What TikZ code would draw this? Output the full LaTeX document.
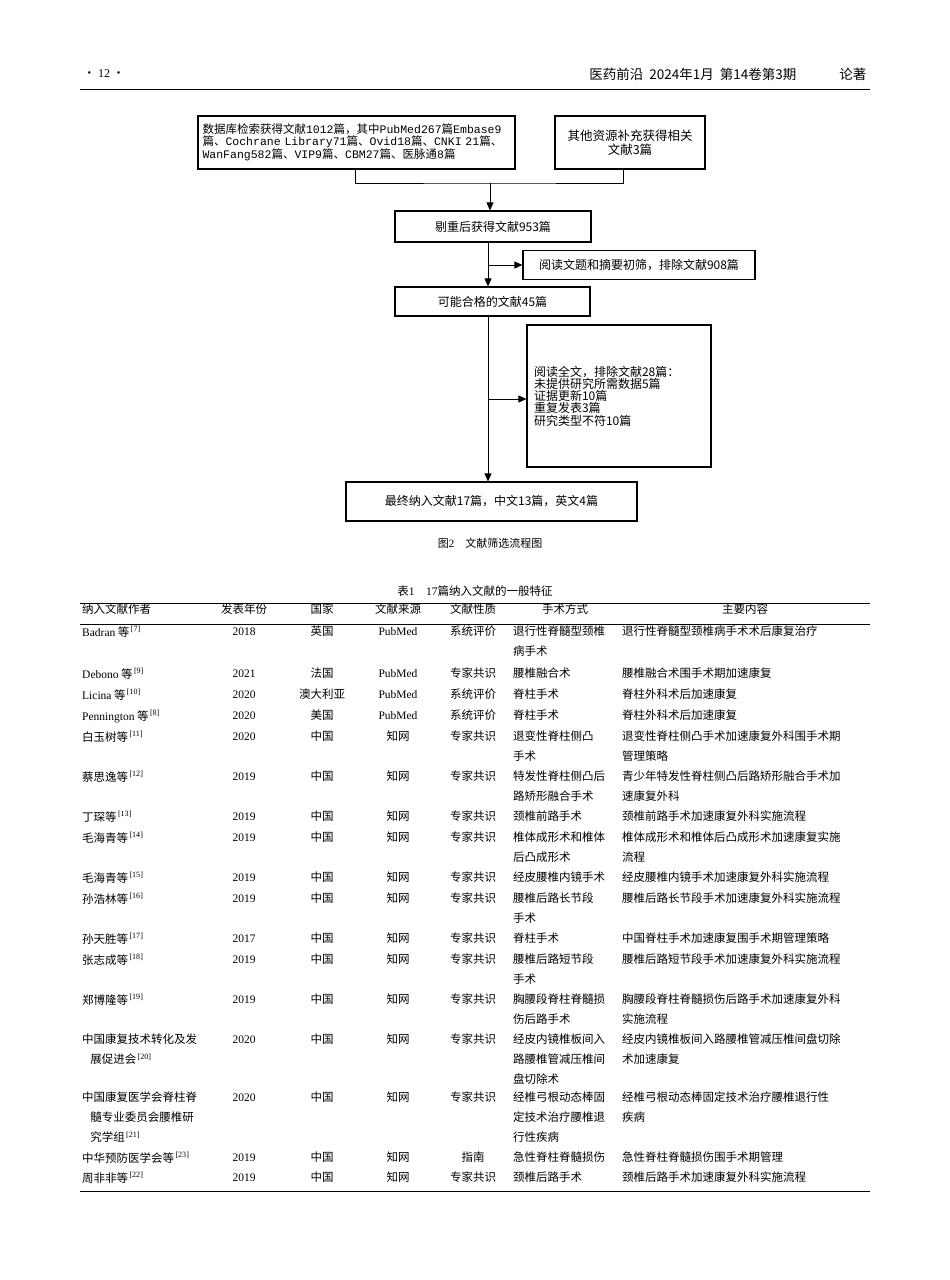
\documentclass[tikz,border=0pt]{standalone}
\usepackage{fontspec}
\setmainfont{Noto Sans CJK SC}
\newfontfamily\en{Liberation Serif}
\newfontfamily\mo{Liberation Mono}
\usetikzlibrary{arrows.meta}
\newcommand{\rf}[1]{\textsuperscript{\en\,[#1]}}
\newcommand{\cs}{\vphantom{中}}
\begin{document}
\begin{tikzpicture}[x=1pt,y=-1pt,
 box/.style={draw,line width=1.2pt,inner sep=2pt,font=\fontsize{12}{12}\selectfont},
 arr/.style={-{Triangle[length=8pt,width=7pt]},line width=0.8pt},
 ln/.style={line width=0.8pt},
 tc/.style={anchor=north west,inner sep=0pt,align=left,font=\fontsize{11.5}{20}\selectfont},
 cc/.style={anchor=north,inner sep=0pt,align=center,font=\fontsize{11.5}{20}\selectfont}]
\useasboundingbox (0,0) rectangle (950,1280);
% header
\node[font=\fontsize{12}{12}\selectfont] (pg) at (104,74) {· {\en 12} ·};
\node[anchor=east,font=\fontsize{13.5}{12}\selectfont] (jr) at (800,74) {医药前沿\ \ 2024年1月\ \ 第14卷第3期};
\node[anchor=east,font=\fontsize{13.5}{12}\selectfont] (lz) at (870,74) {论著};
\draw[line width=0.5pt] (80,89) -- (870,89);
% flowchart
\node[box,minimum width=317pt,minimum height=53pt,align=left,text width=308pt,font=\fontsize{11.5}{10.5}\selectfont] (b1) at (356.5,142.5) {数据库检索获得文献{\mo 1012}篇，其中{\mo PubMed267}篇{\mo Embase9}\\篇、{\mo Cochrane Library71}篇、{\mo Ovid18}篇、{\mo CNKI 21}篇、\\{\mo WanFang582}篇、{\mo VIP9}篇、{\mo CBM27}篇、医脉通{\mo 8}篇};
\node[box,minimum width=150pt,minimum height=53pt,align=center,font=\fontsize{12.5}{14}\selectfont] (b2) at (630,142.5) {其他资源补充获得相关\\文献3篇};
\node[box,minimum width=196pt,minimum height=31pt] (b3) at (493,226.5) {剔重后获得文献953篇};
\node[box,minimum width=232pt,minimum height=29pt] (b4) at (639,265) {阅读文题和摘要初筛，排除文献908篇};
\node[box,minimum width=195pt,minimum height=29pt] (b5) at (492.5,301.5) {可能合格的文献45篇};
\node[box,minimum width=184pt,minimum height=142pt,align=left,text width=170pt,font=\fontsize{12}{11}\selectfont] (b6) at (619,396) {阅读全文，排除文献28篇：\\未提供研究所需数据5篇\\证据更新10篇\\重复发表3篇\\研究类型不符10篇};
\node[box,minimum width=291pt,minimum height=39pt] (b7) at (491.5,501.5) {最终纳入文献17篇，中文13篇，英文4篇};
\coordinate (j1) at (490,183);
\coordinate (j2) at (488,265);
\coordinate (j3) at (488,399);
\draw[ln] (b1.south -| 355,0) |- (j1) -| (b2.south -| 623,0);
\draw[arr] (j1) -- (b3.north -| j1);
\draw[arr] (b3.south -| j2) -- (b5.north -| j2);
\draw[arr] (j2) -- (b4.west);
\draw[arr] (b5.south -| j3) -- (b7.north -| j3);
\draw[arr] (j3) -- (b6.west |- j3);
\node[font=\fontsize{11}{12}\selectfont] (cap) at (490,543) {图{\en 2}\quad 文献筛选流程图};
% table
\node[font=\fontsize{11.5}{12}\selectfont] (tt) at (475,591) {表{\en 1}\quad {\en 17}篇纳入文献的一般特征};
\draw[line width=1pt] (80,603) -- (870,603);
\draw[line width=0.5pt] (80,624) -- (870,624);
\draw[line width=1pt] (80,1191) -- (870,1191);
\foreach \t/\x in {发表年份/244,国家/322,文献来源/398,文献性质/473,手术方式/565,主要内容/745}
  \node[cc] at (\x,604) {\t};
\node[tc] at (82,604) {纳入文献作者};
\newcommand{\trow}[8]{%
 \node[tc] at (82,#1) {\cs #2};
 \node[cc] at (244,#1) {\cs\en #3};
 \node[cc] at (322,#1) {#4};
 \node[cc] at (398,#1) {\cs #5};
 \node[cc] at (473,#1) {#6};
 \node[tc] at (513,#1) {#7};
 \node[tc] at (622,#1) {#8};}
\trow{626}{{\en Badran} 等\rf{7}}{2018}{英国}{\en PubMed}{系统评价}{退行性脊髓型颈椎\\病手术}{退行性脊髓型颈椎病手术术后康复治疗}
\trow{668}{{\en Debono} 等\rf{9}}{2021}{法国}{\en PubMed}{专家共识}{腰椎融合术}{腰椎融合术围手术期加速康复}
\trow{689}{{\en Licina} 等\rf{10}}{2020}{澳大利亚}{\en PubMed}{系统评价}{脊柱手术}{脊柱外科术后加速康复}
\trow{710}{{\en Pennington} 等\rf{8}}{2020}{美国}{\en PubMed}{系统评价}{脊柱手术}{脊柱外科术后加速康复}
\trow{731}{白玉树等\rf{11}}{2020}{中国}{知网}{专家共识}{退变性脊柱侧凸\\手术}{退变性脊柱侧凸手术加速康复外科围手术期\\管理策略}
\trow{771}{蔡思逸等\rf{12}}{2019}{中国}{知网}{专家共识}{特发性脊柱侧凸后\\路矫形融合手术}{青少年特发性脊柱侧凸后路矫形融合手术加\\速康复外科}
\trow{811}{丁琛等\rf{13}}{2019}{中国}{知网}{专家共识}{颈椎前路手术}{颈椎前路手术加速康复外科实施流程}
\trow{832}{毛海青等\rf{14}}{2019}{中国}{知网}{专家共识}{椎体成形术和椎体\\后凸成形术}{椎体成形术和椎体后凸成形术加速康复实施\\流程}
\trow{872}{毛海青等\rf{15}}{2019}{中国}{知网}{专家共识}{经皮腰椎内镜手术}{经皮腰椎内镜手术加速康复外科实施流程}
\trow{893}{孙浩林等\rf{16}}{2019}{中国}{知网}{专家共识}{腰椎后路长节段\\手术}{腰椎后路长节段手术加速康复外科实施流程}
\trow{933}{孙天胜等\rf{17}}{2017}{中国}{知网}{专家共识}{脊柱手术}{中国脊柱手术加速康复围手术期管理策略}
\trow{954}{张志成等\rf{18}}{2019}{中国}{知网}{专家共识}{腰椎后路短节段\\手术}{腰椎后路短节段手术加速康复外科实施流程}
\trow{994}{郑博隆等\rf{19}}{2019}{中国}{知网}{专家共识}{胸腰段脊柱脊髓损\\伤后路手术}{胸腰段脊柱脊髓损伤后路手术加速康复外科\\实施流程}
\trow{1034}{中国康复技术转化及发\\\hspace*{0.7em}展促进会\rf{20}}{2020}{中国}{知网}{专家共识}{经皮内镜椎板间入\\路腰椎管减压椎间\\盘切除术}{经皮内镜椎板间入路腰椎管减压椎间盘切除\\术加速康复}
\trow{1092}{中国康复医学会脊柱脊\\\hspace*{0.7em}髓专业委员会腰椎研\\\hspace*{0.7em}究学组\rf{21}}{2020}{中国}{知网}{专家共识}{经椎弓根动态棒固\\定技术治疗腰椎退\\行性疾病}{经椎弓根动态棒固定技术治疗腰椎退行性\\疾病}
\trow{1152}{中华预防医学会等\rf{23}}{2019}{中国}{知网}{指南}{急性脊柱脊髓损伤}{急性脊柱脊髓损伤围手术期管理}
\trow{1172}{周非非等\rf{22}}{2019}{中国}{知网}{专家共识}{颈椎后路手术}{颈椎后路手术加速康复外科实施流程}
\end{tikzpicture}
\end{document}
